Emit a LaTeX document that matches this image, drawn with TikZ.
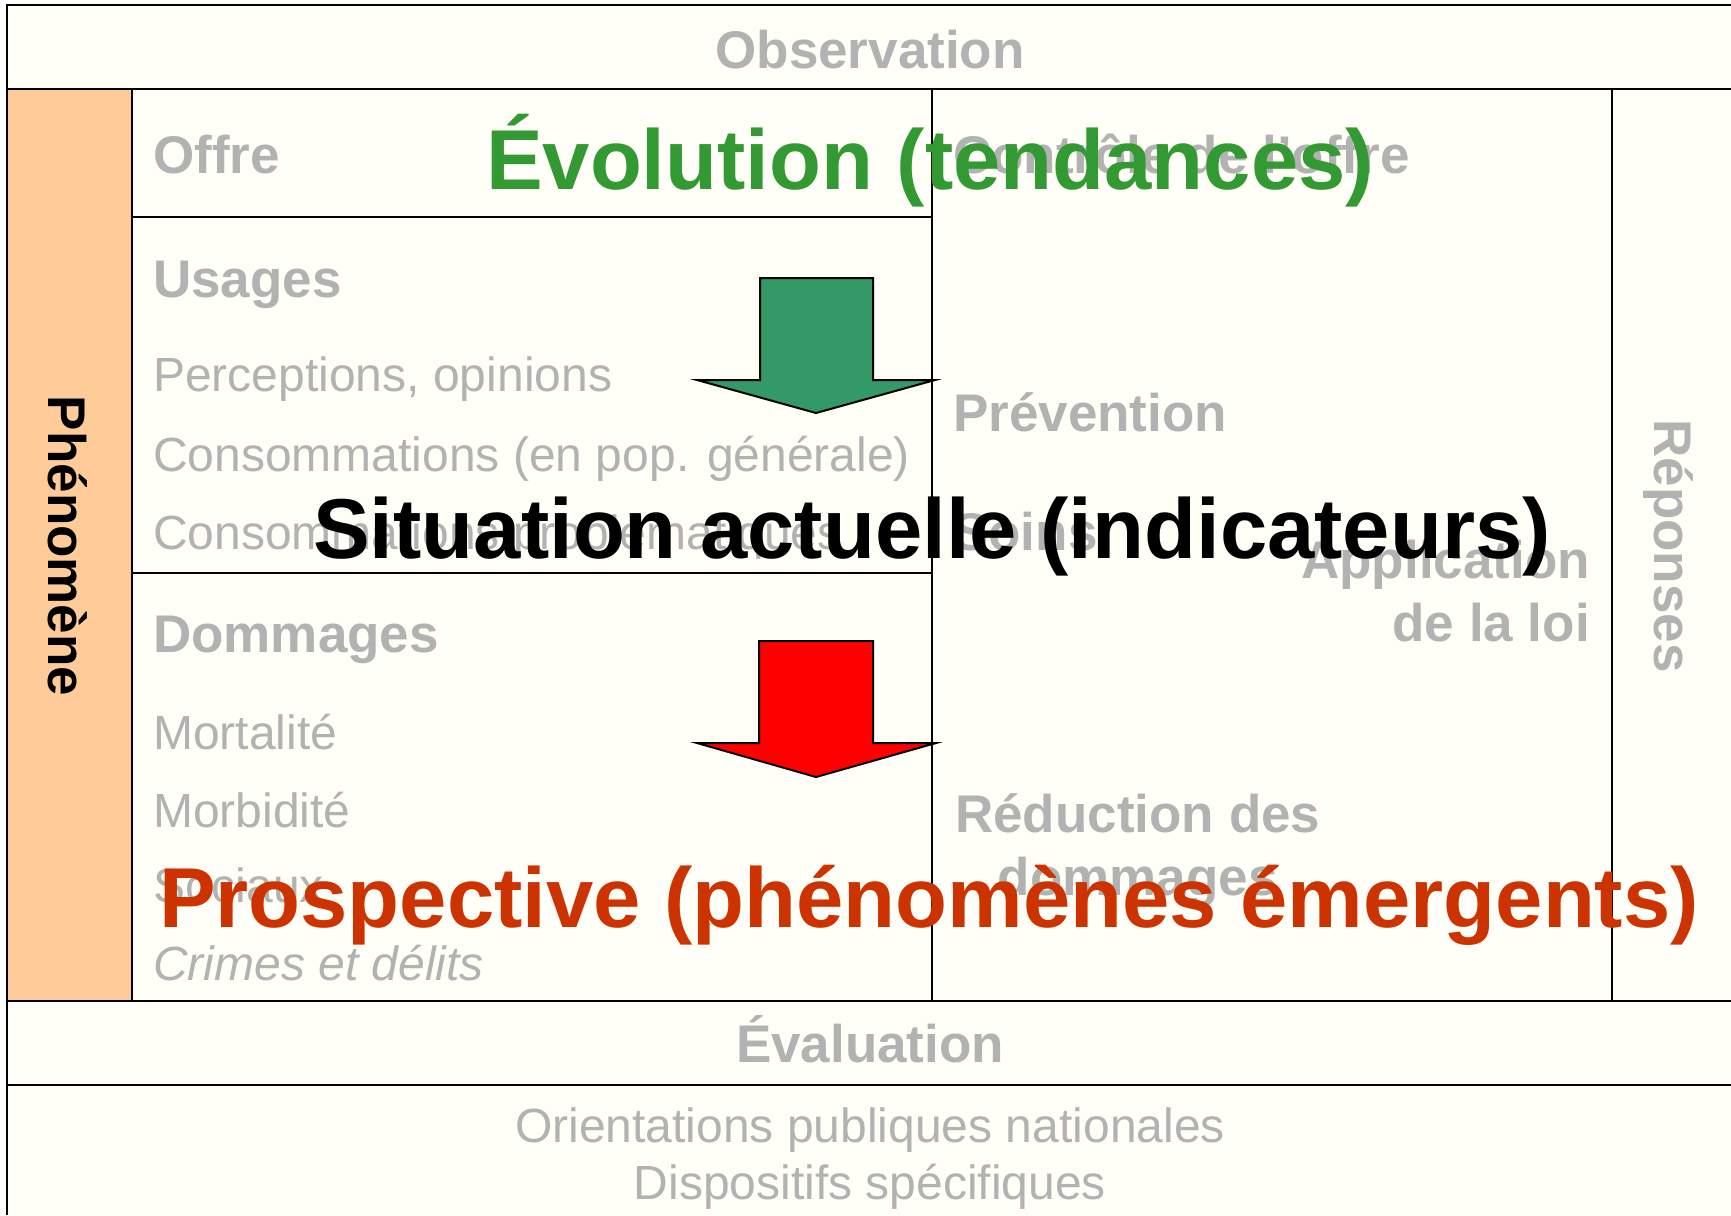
\documentclass[tikz,border=0pt]{standalone}
\usepackage{fontspec}
\setmainfont{Liberation Sans}
\usepackage{tikz}
\usetikzlibrary{positioning}

\definecolor{fond}{HTML}{FFFFF7}
\definecolor{orangeclair}{HTML}{FFCC99}
\definecolor{gris}{HTML}{B2B2B2}
\definecolor{verttexte}{HTML}{339933}
\definecolor{vertfleche}{HTML}{339966}
\definecolor{rougefleche}{HTML}{FF0000}
\definecolor{brique}{HTML}{CC3300}

\begin{document}
\begin{tikzpicture}[x=1pt,y=-1pt,
        trait/.style={line width=2.5pt},
        fin/.style={line width=2pt},
        titre/.style={inner sep=0pt,text=gris,font=\fontsize{53}{63}\selectfont\bfseries},
        item/.style={inner sep=0pt,text=gris,font=\fontsize{48}{57}\selectfont},
        grand/.style={inner sep=0pt,font=\fontsize{85}{100}\selectfont\bfseries},
        fleche/.style={draw=black,line width=2pt,line join=miter}]
        \useasboundingbox (0,0) rectangle (1731,1215);
        \fill[fond] (7,5) rectangle (1731,1215);
        \fill[orangeclair] (7,89) rectangle (132,1001);
        \draw[trait] (1731,5) -- (7,5) -- (7,1215);
        \draw[trait] (7,89) -- (1731,89);
        \draw[trait] (7,1001) -- (1731,1001);
        \draw[trait] (7,1085) -- (1731,1085);
        \draw[fin] (132,89) -- (132,1001);
        \draw[fin] (932,89) -- (932,1001);
        \draw[fin] (1612,89) -- (1612,1001);
        \draw[fin] (132,217) -- (932,217);
        \draw[fin] (132,573) -- (932,573);

        \node[titre,anchor=base] (obs) at (870,68) {Observation};
        \node[titre,rotate=-90,text=black] (pheno) at (68,546) {Phénomène};
        \node[titre,anchor=base west] (offre) at (153,173) {Offre};
        \node[titre,anchor=base west] (usages) at (153,297) {Usages};
        \node[item,anchor=base west] (percep) at (153,391) {Perceptions, opinions};
        \node[item,anchor=base west] (conso) at (153,471) {Consommations (en pop. générale)};
        \node[item,anchor=base west] (consopb) at (153,549) {Consommations problématiques};
        \node[titre,anchor=base west] (dommages) at (153,652) {Dommages};
        \node[item,anchor=base west] (mortal) at (153,749) {Mortalité};
        \node[item,anchor=base west] (morbid) at (153,827) {Morbidité};
        \node[item,anchor=base west] (sociaux) at (153,902) {Sociaux};
        \node[item,anchor=base west,font=\fontsize{48}{57}\selectfont\itshape] (crimes) at (153,980) {Crimes et délits};

        \node[titre,anchor=base west] (controle) at (953,173) {Contrôle de l'offre};
        \node[titre,anchor=base west] (prev) at (953,431) {Prévention};
        \node[titre,anchor=base west] (soins) at (953,550) {Soins};
        \node[titre,anchor=base east,align=right] (loi) at (1590,641) {Application\\de la loi};
        \node[titre,anchor=base west,align=center] (reduc) at (955,895) {Réduction des\\dommages};
        \node[titre,rotate=-90] (reponses) at (1668,546) {Réponses};

        \node[titre,anchor=base] (eval) at (870,1062) {Évaluation};
        \node[item,anchor=base,align=center] (orient) at (870,1199) {Orientations publiques nationales\\Dispositifs spécifiques};

        \draw[fleche,fill=vertfleche] (760,278) -- (873,278) -- (873,380) -- (935,380) -- (816,413) -- (697,380) -- (760,380) -- cycle;
        \draw[fleche,fill=rougefleche] (759,641) -- (873,641) -- (873,743) -- (936,743) -- (816,777) -- (697,743) -- (759,743) -- cycle;

        \node[grand,text=verttexte,anchor=base] (evol) at (930,189) {Évolution (tendances)};
        \node[grand,anchor=base] (situ) at (932,558) {Situation actuelle (indicateurs)};
        \node[grand,text=brique,anchor=base] (prosp) at (929,927) {Prospective (phénomènes émergents)};
\end{tikzpicture}
\end{document}
